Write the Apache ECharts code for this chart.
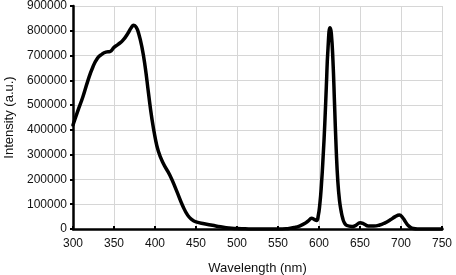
<!DOCTYPE html>
<html><head><meta charset="utf-8">
<script src="https://cdn.jsdelivr.net/npm/echarts@6/dist/echarts.min.js"></script>
<style>html,body{margin:0;padding:0;background:#fff}#c{width:456px;height:275px}</style>
</head><body><div id="c"></div>
<script>
var wavelengths = [300,306,312,318,324,330,335,340,345,350,355,361,367,371,374,377,380,384,388,392,396,400,404,410,418,426,434,440,445,450,460,470,480,490,500,510,520,530,540,550,560,565,570,576,583,587,591,594,597,599,601,603,605,607,609,611,613.5,615,617,619,621,623,625,627,629,631,634,640,645,650,655,660,667,674,680,687,693,698,702,705,708,711,715,720,735,750];
var intensities = [420000,478000,533000,597000,652000,690000,705000,714000,716000,733000,745000,762000,790000,812000,822000,815000,790000,735000,655000,550000,450000,372000,315000,265000,218000,157000,92000,55000,38000,29000,21000,15000,9000,4000,2000,1000,0,0,0,0,1000,3000,6000,12000,23000,33000,43000,39000,34000,52000,100000,180000,290000,420000,580000,730000,812000,790000,680000,500000,320000,190000,115000,72000,42000,25000,14000,10000,15000,25000,20000,12000,12000,16000,24000,37000,50000,56000,46000,31000,17000,8000,2000,0,0,0];
var xTicks = {min:300, max:750, step:50};
var yTicks = {min:0, max:900000, step:100000};

var data = wavelengths.map(function(w,i){return [w, intensities[i]];});
var chart = echarts.init(document.getElementById('c'));
var font = 'Liberation Sans, Arial, sans-serif';
chart.setOption({
  animation:false,
  grid:{left:73, right:14, top:6, bottom:46, containLabel:false, outerBoundsMode:'none'},
  xAxis:{type:'value', min:xTicks.min, max:xTicks.max, interval:xTicks.step,
    name:'Wavelength (nm)', nameLocation:'middle', nameGap:33,
    nameTextStyle:{fontFamily:font, fontSize:13, color:'#111'},
    axisLine:{lineStyle:{color:'#000', width:2.5}},
    axisTick:{show:true, inside:true, length:3, lineStyle:{color:'#000', width:2}},
    axisLabel:{fontFamily:font, fontSize:12, color:'#111', margin:9, formatter:function(v){return String(v);}},
    splitLine:{show:true, lineStyle:{color:'#d6d6d6', width:1}}
  },
  yAxis:{type:'value', min:yTicks.min, max:yTicks.max, interval:yTicks.step,
    name:'Intensity (a.u.)', nameLocation:'middle', nameGap:56,
    nameTextStyle:{fontFamily:font, fontSize:13, color:'#111'},
    axisLine:{show:true, lineStyle:{color:'#000', width:2.5}},
    axisTick:{show:true, length:3, lineStyle:{color:'#000', width:2}},
    axisLabel:{fontFamily:font, fontSize:12, color:'#111', margin:6, formatter:function(v){return String(v);}},
    splitLine:{show:true, lineStyle:{color:'#d6d6d6', width:1}}
  },
  series:[{type:'line', data:data, smooth:0.5, showSymbol:false,
    lineStyle:{color:'#000', width:3.5, join:'round', cap:'round'}}]
});
</script></body></html>
